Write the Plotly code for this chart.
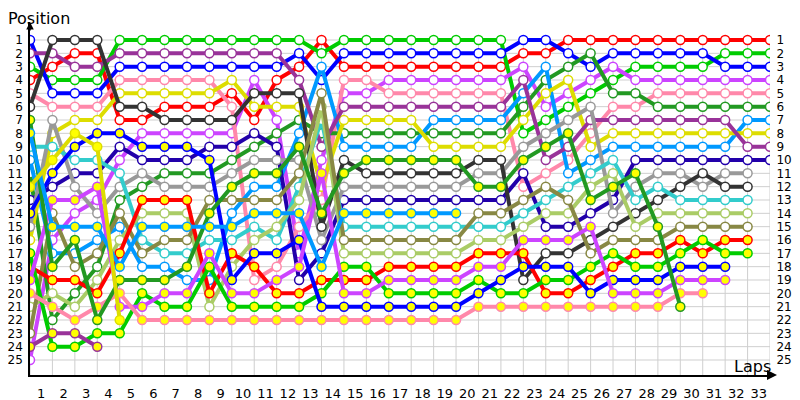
import plotly.graph_objects as go

# lap columns 0..33 (0 = grid), positions 1..25
laps = list(range(34))
positions = list(range(1, 26))
lap_labels = [str(i) for i in range(1, 34)]
N = None

# position per lap for each car (white markers)
red_w = [4, 3, 2, 2, 7, 7, 6, 6, 6, 5, 7, 4, 3, 1, 3, 3, 3, 3, 3, 3, 3, 3, 2, 2, 1, 1, 1, 1, 1, 1, 1, 1, 1, 1]
green_w = [3, 4, 4, 4, 1, 1, 1, 1, 1, 1, 1, 1, 1, 2, 1, 1, 1, 1, 1, 1, 1, 1, 8, 7, 6, 5, 4, 3, 3, 3, 3, 2, 2, 2]
blue_w = [1, 5, 5, 5, 3, 3, 3, 3, 3, 3, 3, 3, 2, 4, 2, 2, 2, 2, 2, 2, 2, 2, 1, 1, 2, 3, 2, 2, 2, 2, 2, 3, 3, 3]
violet_w = [25, 16, 14, 13, 10, 8, 8, 8, 8, 8, 4, 7, 17, 10, 5, 5, 4, 4, 4, 4, 4, 4, 3, 6, 5, 4, 3, 4, 4, 4, 4, 4, 4, 4]
pink_w = [5, 6, 6, 6, 4, 4, 4, 4, 4, 6, 19, 18, 15, 13, 4, 4, 5, 5, 5, 5, 5, 5, 12, 11, 10, 8, 6, 6, 5, 5, 5, 5, 5, 5]
dkgreen_w = [11, 22, 20, 18, 13, 12, 11, 11, 11, 10, 9, 8, 7, 8, 8, 8, 8, 8, 8, 8, 8, 8, 6, 4, 3, 2, 5, 5, 6, 6, 6, 6, 6, 6]
ltblue_w = [10, 17, 17, 16, 15, 18, 18, 19, 19, 14, 12, 12, 8, 3, 9, 9, 9, 9, 7, 7, 7, 7, 5, 3, 11, 10, 9, 9, 9, 9, 9, 9, 7, 7]
yellow_w = [16, 8, 7, 7, 5, 5, 5, 5, 5, 4, 6, 6, 6, 12, 7, 7, 7, 7, 9, 9, 9, 9, 7, 5, 4, 9, 8, 8, 8, 8, 8, 8, 8, 8]
purple_w = [2, 2, 3, 3, 2, 2, 2, 2, 2, 2, 2, 2, 4, 9, 6, 6, 6, 6, 6, 6, 6, 6, 4, 10, 9, 7, 7, 7, 7, 7, 7, 7, 9, 9]
navy_w = [13, 12, 11, 11, 9, 10, 10, 10, 9, 9, 8, 9, 19, 17, 13, 13, 13, 13, 13, 13, 13, 13, 11, 15, 15, 14, 13, 10, 10, 10, 10, 10, 10, 10]
gray_w = [15, 7, 12, 14, 12, 11, 12, 12, 12, 11, 10, 10, 10, 16, 12, 12, 12, 12, 12, 12, 11, 11, 9, 8, 7, 6, 14, 12, 11, 11, 12, 11, 11, N]
dkgray_w = [6, 1, 1, 1, 6, 6, 7, 7, 7, 7, 5, 5, 5, 15, 10, 11, 11, 11, 11, 11, 10, 10, 19, 17, 17, 16, 15, 14, 13, 12, 11, 12, 12, N]
cyan_w = [9, 9, 10, 10, 11, 16, 17, 17, 16, 16, 15, 16, 12, 7, 15, 15, 15, 15, 15, 15, 15, 15, 14, 13, 12, 11, 10, 13, 12, 13, 13, 13, 13, N]
ltolive_w = [21, 20, 21, 19, 16, 14, 14, 14, 21, 18, 16, 15, 13, 6, 17, 17, 17, 17, 17, 17, 16, 16, 15, 14, 14, 12, 11, 15, 14, 14, 14, 14, 14, N]
olive_w = [23, 14, 18, 17, 14, 17, 16, 16, 13, 13, 13, 13, 11, 5, 16, 16, 16, 16, 16, 16, 14, 14, 13, 12, 13, 17, 16, 16, 16, 15, 15, 15, 15, N]

# cars with yellow markers
red_y = [18, 19, 19, 20, 17, 13, 13, 13, 20, 17, 18, 20, 20, 19, 19, 19, 18, 18, 18, 18, 17, 17, 17, 20, 20, 19, 18, 17, 17, 16, 17, 16, 16, N]
green_y = [17, 24, 24, 23, 23, 20, 21, 21, 18, 21, 21, 21, 21, 20, 18, 18, 20, 20, 20, 20, 19, 20, 20, 19, 19, 18, 17, 18, 18, 17, 16, 17, 17, N]
blue_y = [14, 11, 9, 8, 8, 9, 9, 9, 10, 19, 17, 17, 16, 21, 21, 21, 21, 21, 21, 21, 20, 19, 18, 18, 18, 20, 19, 19, 19, 18, 18, 18, N, N]
violet_y = [19, 13, 13, 12, 21, 21, 20, 20, 17, 20, 20, 19, 18, 11, 20, 20, 19, 19, 19, 19, 18, 18, 16, 16, 16, 15, 20, 20, 20, 19, 19, 19, N, N]
pink_y = [20, 21, 22, 21, 20, 22, 22, 22, 22, 22, 22, 22, 22, 22, 22, 22, 22, 22, 22, 22, 21, 21, 21, 21, 21, 21, 21, 21, 21, 20, 20, N, N, N]
dkgreen_y = [7, 18, 16, 22, 19, 19, 19, 18, 14, 12, 11, 11, 9, 14, 11, 10, 10, 10, 10, 10, 12, 12, 10, 9, 8, 13, 12, 11, 15, 21, N, N, N, N]
ltblue_y = [8, 15, 15, 15, 18, 15, 15, 15, 15, 15, 14, 14, 14, 18, 14, 14, 14, 14, 14, 14] + [N] * 14
yellow_y = [12, 10, 8, 9, 22] + [N] * 29
purple_y = [24, 23, 23, 24] + [N] * 30

cars = [
    (red_w, "#ff0000", "white"), (green_w, "#00cc00", "white"),
    (blue_w, "#0000ff", "white"), (violet_w, "#cc44ff", "white"),
    (pink_w, "#ff88aa", "white"), (dkgreen_w, "#229922", "white"),
    (ltblue_w, "#0099ff", "white"), (yellow_w, "#dddd00", "white"),
    (purple_w, "#993399", "white"), (navy_w, "#2200aa", "white"),
    (gray_w, "#999999", "white"), (dkgray_w, "#333333", "white"),
    (cyan_w, "#33cccc", "white"), (ltolive_w, "#aacc66", "white"),
    (olive_w, "#888844", "white"),
    (red_y, "#ff0000", "#ffff00"), (green_y, "#00cc00", "#ffff00"),
    (blue_y, "#0000ff", "#ffff00"), (violet_y, "#cc44ff", "#ffff00"),
    (pink_y, "#ff88aa", "#ffff00"), (dkgreen_y, "#229922", "#ffff00"),
    (ltblue_y, "#0099ff", "#ffff00"), (yellow_y, "#dddd00", "#ffff00"),
    (purple_y, "#993399", "#ffff00"),
]

y_range = [26.125, -0.35]
fig = go.Figure()

# grid (only over the lap/position area)
for lap in laps:
    fig.add_shape(type="line", x0=lap, x1=lap, y0=positions[0], y1=y_range[0],
                  line=dict(color="#cfcfcf", width=1), layer="below")
for p in positions:
    fig.add_shape(type="line", x0=laps[0], x1=laps[-1], y0=p, y1=p,
                  line=dict(color="#cfcfcf", width=1), layer="below")

for values, color, fill in cars:
    fig.add_trace(go.Scatter(
        x=laps, y=values, mode="lines+markers",
        line=dict(color=color, width=4),
        marker=dict(symbol="circle", size=9, color=fill,
                    line=dict(color=color, width=1.5)),
        hoverinfo="skip", showlegend=False))

# empty trace so the right-hand position axis is drawn
fig.add_trace(go.Scatter(x=[None], y=[None], yaxis="y2", mode="markers",
                         showlegend=False, hoverinfo="skip"))

x_font = dict(family="DejaVu Sans", size=13, color="black")
y_font = dict(family="DejaVu Sans", size=12, color="black")
# the page body adds an 8px margin, so the figure is 8px smaller than the window
fig.update_layout(
    width=792, height=392,
    margin=dict(l=22, r=30, t=14, b=25, autoexpand=False),
    plot_bgcolor="white", paper_bgcolor="white",
    xaxis=dict(range=[laps[0], laps[-1]], automargin=False,
               tickvals=[i - 0.5 for i in range(1, 34)], ticktext=lap_labels,
               showgrid=False, zeroline=False,
               showline=True, linecolor="black", linewidth=2,
               ticks="outside", ticklen=5, tickcolor="rgba(0,0,0,0)",
               tickfont=x_font),
    yaxis=dict(range=y_range, tickvals=positions, automargin=False,
               showgrid=False, zeroline=False,
               showline=True, linecolor="black", linewidth=1.5,
               ticks="outside", ticklen=3, tickcolor="rgba(0,0,0,0)",
               tickfont=y_font),
    yaxis2=dict(range=y_range, tickvals=positions, overlaying="y", side="right",
                automargin=False, showgrid=False, zeroline=False, showline=False,
                ticks="outside", ticklen=3, tickcolor="rgba(0,0,0,0)",
                tickfont=y_font),
)

title_font = dict(family="DejaVu Sans", size=16, color="black")
fig.add_annotation(text="Position", xref="paper", yref="paper",
                   x=0.0115, y=1.0085, xanchor="center", yanchor="middle",
                   showarrow=False, font=title_font)
fig.add_annotation(text="Laps", xref="paper", yref="paper",
                   x=0.976, y=0.024, xanchor="center", yanchor="middle",
                   showarrow=False, font=title_font)
# axis arrow heads
fig.add_annotation(text="", xref="paper", yref="paper", x=0, y=1,
                   ax=0, ay=10, showarrow=True, arrowhead=2,
                   arrowsize=1, arrowwidth=1.5, arrowcolor="black")
fig.add_annotation(text="", xref="paper", yref="paper", x=1.0095, y=0,
                   ax=-10, ay=0, showarrow=True, arrowhead=2,
                   arrowsize=1, arrowwidth=2, arrowcolor="black")

fig.write_html("out.html")
